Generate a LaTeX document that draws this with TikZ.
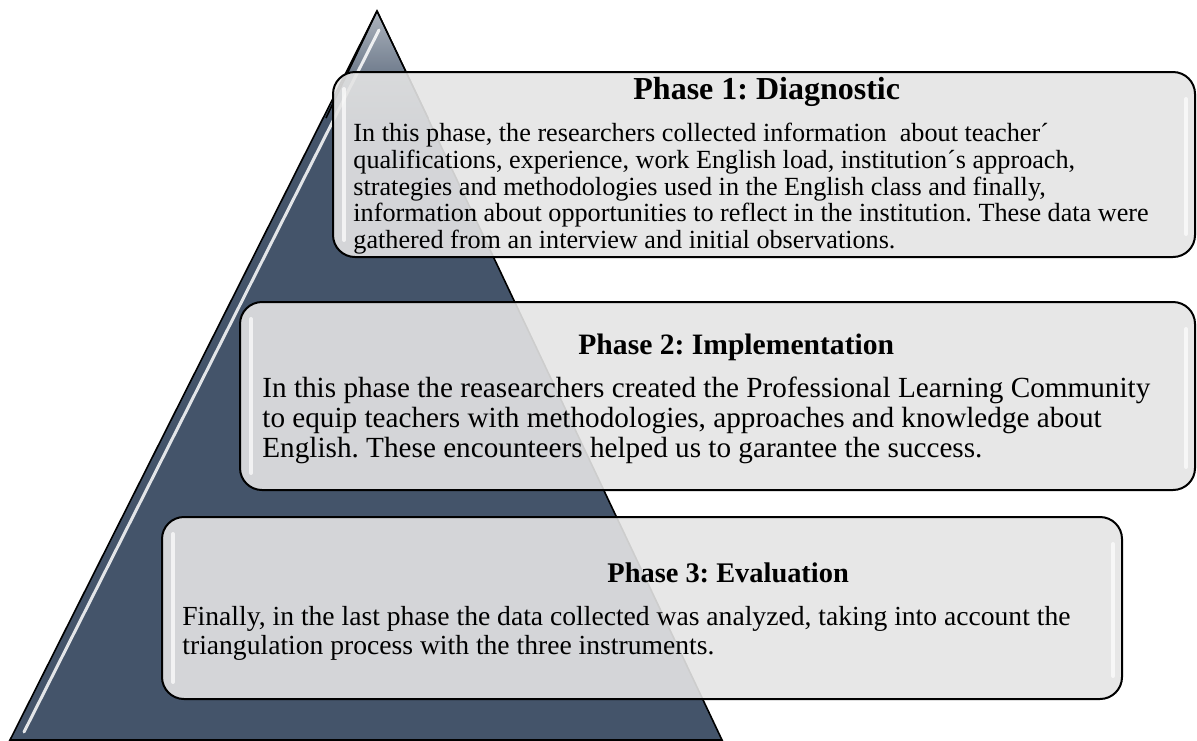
\documentclass[tikz,border=0pt]{standalone}
\usepackage{fontspec}
\setmainfont{Liberation Serif}
\usepackage{tikz}
\usetikzlibrary{positioning}

\definecolor{pyramid}{HTML}{44546A}
\definecolor{boxgray}{HTML}{E4E4E4}
\tikzset{
  phasebox/.style={draw, line width=1pt, fill=boxgray, fill opacity=0.9, rounded corners=11pt, inner sep=0pt},
  phasetitle/.style={anchor=base west, inner sep=0pt, font=\bfseries},
  phasetext/.style={anchor=north west, inner sep=0pt, align=left},
  gloss/.style={white, line width=2pt, line cap=round, opacity=0.7}
}
\frenchspacing

\begin{document}
\begin{tikzpicture}[x=0.5pt,y=-0.5pt]
        \useasboundingbox (0,0) rectangle (1197,740);

        %pyramid
        \draw[fill=pyramid, line width=0.8pt] (377,11) -- (722,740) -- (10,740) -- cycle;
        \shade[top color=pyramid!45!white, bottom color=pyramid] (377,13) -- (428,120) -- (326,120) -- cycle;
        \draw[line width=0.8pt] (377,11) -- (428,118) (377,11) -- (326,118);
        \draw[gloss, line width=1.5pt, opacity=0.85] (379,30) -- (24,732);

        %phase boxes
        \node[phasebox, minimum width=431pt, minimum height=92.5pt] (box1) at (764,164.5) {};
        \node[phasebox, minimum width=477.5pt, minimum height=94pt] (box2) at (717.5,396) {};
        \node[phasebox, minimum width=480pt, minimum height=91pt] (box3) at (642,608) {};

        \foreach \b in {box1,box2,box3} {
          \draw[gloss] ([xshift=6pt,yshift=-9pt]\b.north west) -- ([xshift=6pt,yshift=9pt]\b.south west);
          \draw[gloss] ([xshift=-5pt,yshift=-14pt]\b.north east) -- ([xshift=-5pt,yshift=12pt]\b.south east);
        }

        %texts
        \node[phasetitle, font=\fontsize{16}{17}\selectfont\bfseries] (title1) at (633,99) {Phase 1: Diagnostic};
        \node[phasetext, font=\fontsize{13.1}{13.3}\selectfont] (text1) at (353,123) {In this phase, the researchers collected information~ about teacher´\\
          qualifications, experience, work English load, institution´s approach,\\
          strategies and methodologies used in the English class and finally,\\
          information about opportunities to reflect in the institution. These data were\\
          gathered from an interview and initial observations.};

        \node[phasetitle, font=\fontsize{14.8}{16}\selectfont\bfseries] (title2) at (578,354) {Phase 2: Implementation};
        \node[phasetext, font=\fontsize{14.6}{14.8}\selectfont] (text2) at (262,377) {In this phase the reasearchers created the Professional Learning Community\\
          to equip teachers with methodologies, approaches and knowledge about\\
          English. These encounteers helped us to garantee the success.};

        \node[phasetitle, font=\fontsize{14.2}{15}\selectfont\bfseries] (title3) at (607,582) {Phase 3: Evaluation};
        \node[phasetext, font=\fontsize{13.8}{14.4}\selectfont] (text3) at (182,606) {Finally, in the last phase the data collected was analyzed, taking into account the\\
          triangulation process with the three instruments.};
\end{tikzpicture}
\end{document}
